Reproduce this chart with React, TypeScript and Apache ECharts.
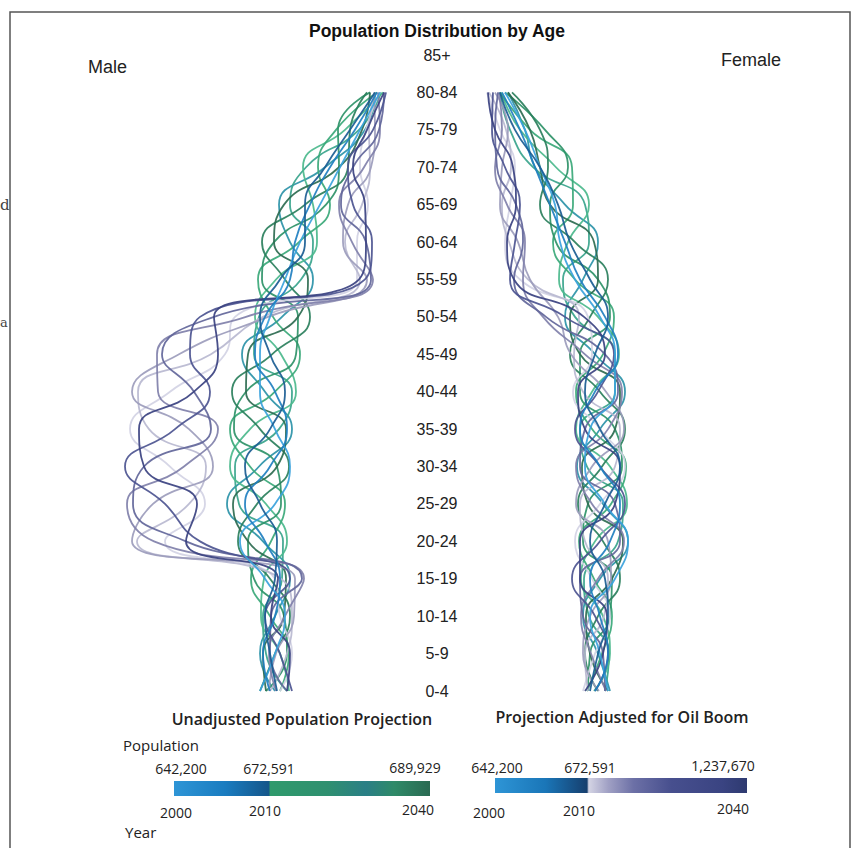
import React, { useEffect, useRef } from 'react';
import * as echarts from 'echarts';

const ageGroups = ['0-4', '5-9', '10-14', '15-19', '20-24', '25-29', '30-34', '35-39', '40-44', '45-49', '50-54', '55-59', '60-64', '65-69', '70-74', '75-79', '80-84', '85+'];

const baseYears = ['2000', '2005', '2010'];
const projYears = ['2015', '2019', '2023', '2027', '2031', '2035', '2040'];

// Male, population (thousands), ages 0-4 .. 80-84
const maleBase = [
  [13.5, 12.0, 11.0, 13.0, 15.5, 12.0, 10.5, 12.0, 13.5, 13.5, 12.5, 11.0, 9.5, 7.5, 5.5, 3.5, 1.5],
  [12.5, 13.2, 12.0, 11.5, 13.0, 15.0, 12.5, 10.8, 12.0, 14.0, 13.0, 10.5, 10.0, 8.5, 6.5, 4.0, 1.8],
  [11.8, 12.5, 13.0, 12.0, 11.8, 13.5, 15.0, 12.5, 11.0, 12.5, 13.5, 11.5, 9.0, 9.0, 7.0, 4.5, 2.0],
];
const maleUnadjusted = [
  [12.0, 13.5, 12.0, 10.5, 13.2, 16.8, 13.6, 10.3, 13.0, 15.3, 11.3, 8.2, 10.5, 11.6, 7.0, 3.0, 2.0],
  [10.8, 12.9, 13.2, 11.3, 11.2, 15.6, 16.0, 11.6, 10.3, 14.1, 13.6, 9.4, 8.2, 10.5, 8.9, 3.6, 1.4],
  [10.6, 11.5, 13.4, 13.1, 10.8, 12.9, 16.5, 14.5, 9.9, 11.4, 14.0, 11.9, 7.8, 8.2, 9.2, 5.0, 1.2],
  [11.5, 10.6, 12.5, 14.4, 12.4, 11.0, 14.5, 16.5, 12.0, 9.5, 12.2, 13.7, 9.6, 6.5, 7.7, 5.9, 1.8],
  [12.9, 10.8, 11.1, 14.1, 14.7, 11.4, 11.8, 16.1, 14.9, 9.9, 9.7, 13.3, 12.1, 6.9, 5.6, 5.7, 2.5],
  [13.5, 12.0, 10.5, 12.5, 15.7, 13.8, 10.6, 13.5, 16.3, 12.3, 8.5, 11.0, 13.3, 9.0, 4.7, 4.5, 2.8],
  [12.9, 13.2, 11.1, 10.9, 14.7, 16.2, 11.8, 10.9, 14.9, 14.7, 9.7, 8.7, 12.1, 11.1, 5.6, 3.3, 2.5],
];
const maleAdjusted = [
  [11.5, 10.3, 11.5, 12.0, 23.0, 19.0, 22.5, 26.5, 22.5, 17.0, 16.0, 3.8, 3.8, 2.7, 3.5, 2.9, 1.5],
  [12.5, 10.8, 10.3, 11.4, 25.8, 20.6, 18.9, 24.6, 25.7, 18.4, 13.2, 3.5, 5.0, 3.3, 2.5, 2.6, 2.0],
  [12.6, 11.9, 10.1, 10.0, 26.3, 24.2, 18.2, 20.6, 26.3, 21.6, 12.7, 2.8, 5.2, 4.7, 2.4, 2.0, 2.1],
  [11.9, 12.6, 11.0, 9.1, 24.1, 26.8, 21.1, 17.7, 23.7, 23.8, 14.9, 2.2, 4.3, 5.6, 3.1, 1.5, 1.7],
  [10.8, 12.5, 12.4, 9.3, 20.9, 26.2, 25.1, 18.4, 20.1, 23.3, 18.1, 2.4, 2.9, 5.4, 4.2, 1.6, 1.1],
  [10.3, 11.5, 13.0, 10.5, 19.5, 23.0, 27.0, 22.0, 18.5, 20.5, 19.5, 3.0, 2.3, 4.2, 4.7, 2.2, 0.9],
  [10.8, 10.5, 12.4, 11.7, 20.9, 19.8, 25.1, 25.6, 20.1, 17.7, 18.1, 3.6, 2.9, 3.0, 4.2, 2.8, 1.1],
];

// Female
const femaleBase = [
  [12.8, 12.0, 11.0, 13.5, 14.8, 12.5, 10.5, 11.0, 13.5, 13.5, 12.0, 9.5, 8.0, 7.5, 6.0, 4.5, 2.5],
  [11.5, 12.8, 12.0, 11.0, 13.0, 14.0, 12.0, 10.0, 11.5, 13.8, 12.5, 10.0, 8.5, 7.0, 5.5, 4.0, 2.2],
  [11.0, 11.8, 12.8, 12.5, 11.0, 12.5, 14.0, 12.0, 10.5, 11.5, 12.8, 11.0, 9.0, 7.8, 6.0, 3.5, 2.0],
];
const femaleUnadjusted = [
  [13.0, 11.8, 10.3, 12.0, 14.8, 12.3, 9.7, 12.0, 14.5, 11.5, 8.5, 10.3, 11.8, 8.5, 5.5, 4.5, 2.8],
  [12.5, 12.9, 10.9, 10.4, 13.8, 14.3, 10.7, 10.0, 13.5, 13.5, 9.5, 8.3, 10.9, 10.5, 5.3, 3.0, 2.0],
  [11.4, 13.0, 12.3, 10.1, 11.5, 14.7, 13.0, 9.6, 11.2, 13.9, 11.8, 7.9, 8.8, 10.9, 7.6, 4.0, 2.1],
  [10.7, 12.2, 13.2, 11.4, 9.9, 13.1, 14.6, 11.2, 9.6, 12.3, 13.4, 9.5, 7.3, 9.3, 9.2, 5.0, 2.0],
  [10.8, 11.0, 13.0, 13.2, 10.3, 10.8, 14.2, 13.5, 10.0, 10.0, 13.0, 11.8, 7.6, 7.0, 8.8, 6.5, 2.5],
  [11.8, 10.5, 11.8, 14.0, 12.3, 9.8, 12.2, 14.5, 12.0, 9.0, 11.0, 12.8, 9.5, 6.0, 6.8, 6.0, 3.2],
  [12.8, 11.0, 10.6, 13.2, 14.3, 10.8, 10.2, 13.5, 14.0, 10.0, 9.0, 11.8, 11.4, 7.0, 6.0, 5.0, 2.8],
];
const femaleAdjusted = [
  [10.3, 11.5, 13.0, 11.2, 9.5, 12.0, 14.5, 12.0, 9.3, 11.2, 10.8, 4.0, 2.5, 3.0, 3.5, 2.0, 0.7],
  [10.8, 10.5, 12.4, 12.8, 10.5, 10.0, 13.5, 14.0, 10.3, 9.4, 9.9, 4.8, 2.9, 2.2, 3.1, 2.6, 0.9],
  [11.9, 10.3, 11.0, 13.1, 12.8, 9.6, 11.2, 14.4, 12.6, 9.1, 7.8, 5.0, 3.8, 2.0, 2.2, 2.8, 1.5],
  [12.6, 11.1, 10.1, 11.8, 14.4, 11.2, 9.6, 12.8, 14.2, 10.5, 6.3, 4.3, 4.5, 2.7, 1.5, 2.2, 1.9],
  [12.5, 12.3, 10.3, 10.0, 14.0, 13.5, 10.0, 10.5, 13.8, 12.5, 6.6, 3.4, 4.3, 3.6, 1.7, 1.5, 1.8],
  [11.5, 12.8, 11.5, 9.2, 12.0, 14.5, 12.0, 9.5, 11.8, 13.4, 8.5, 3.0, 3.5, 4.0, 2.5, 1.2, 1.3],
  [10.5, 12.3, 12.7, 10.0, 10.0, 13.5, 14.0, 10.5, 9.8, 12.5, 10.4, 3.4, 2.7, 3.6, 3.3, 1.5, 0.8],
];

const baseColors = ['#3aa2dc', '#1f7fc0', '#1a5c92'];
const unadjColors = ['#2b93a8', '#38a48c', '#4bb88c', '#3aa878', '#2e9268', '#2a7f5c', '#2c6b50'];
const adjColors = ['#d2d2e4', '#b8b8d0', '#9c9cbc', '#8080aa', '#62669a', '#4c5490', '#3a4180'];

const legendLeftValues = ['642,200', '672,591', '689,929'];
const legendRightValues = ['642,200', '672,591', '1,237,670'];
const legendYears = ['2000', '2010', '2040'];

function makeSeries(rows: number[][], years: string[], colors: string[], side: number, tag: string) {
  return rows.map((row, i) => ({
    type: 'line',
    name: `${side === 0 ? 'Male' : 'Female'} ${tag} ${years[i]}`,
    xAxisIndex: side,
    yAxisIndex: side,
    data: row.map((v, j) => [v, ageGroups[j]]),
    smooth: 0.5,
    symbol: 'none',
    silent: true,
    lineStyle: { width: 1.8, color: colors[i], opacity: 0.92 },
  }));
}

const legendFont = "'Open Sans', 'Noto Sans', sans-serif";
const sansFont = "'Liberation Sans', Arial, sans-serif";

export default function App() {
  const ref = useRef<HTMLDivElement>(null);
  useEffect(() => {
    const chart = echarts.init(ref.current as HTMLDivElement, null, { renderer: 'svg' });
    const txt = (text: string, x: number, y: number, opts: any = {}) => ({
      type: 'text',
      x,
      y,
      silent: true,
      style: {
        text,
        fill: opts.fill || '#222',
        font: opts.font || `14px ${legendFont}`,
        textAlign: opts.align || 'center',
        textVerticalAlign: 'middle',
      },
    });
    const leftGrad = new echarts.graphic.LinearGradient(0, 0, 1, 0, [
      { offset: 0, color: '#2e95d6' },
      { offset: 0.2, color: '#1a7cc0' },
      { offset: 0.37, color: '#15568a' },
      { offset: 0.376, color: '#2f9a6c' },
      { offset: 0.6, color: '#2f9070' },
      { offset: 0.75, color: '#2a7f86' },
      { offset: 0.86, color: '#2f8a68' },
      { offset: 1, color: '#2a6a52' },
    ]);
    const rightGrad = new echarts.graphic.LinearGradient(0, 0, 1, 0, [
      { offset: 0, color: '#2e95d6' },
      { offset: 0.2, color: '#1a76b8' },
      { offset: 0.365, color: '#163f6e' },
      { offset: 0.372, color: '#d4d4e4' },
      { offset: 0.45, color: '#a0a0c4' },
      { offset: 0.55, color: '#6c70a6' },
      { offset: 0.7, color: '#474f8e' },
      { offset: 0.9, color: '#3a4482' },
      { offset: 1, color: '#2e3a70' },
    ]);
    const option: any = {
      animation: false,
      backgroundColor: '#ffffff',
      grid: [
        { left: 95, width: 300, top: 55, height: 636 },
        { left: 480, width: 300, top: 55, height: 636 },
      ],
      xAxis: [
        { type: 'value', gridIndex: 0, inverse: true, min: 0, max: 30, show: false },
        { type: 'value', gridIndex: 1, min: 0, max: 30, show: false },
      ],
      yAxis: [
        {
          type: 'category', gridIndex: 0, data: ageGroups, boundaryGap: false,
          axisLine: { show: false }, axisTick: { show: false }, axisLabel: { show: false }, splitLine: { show: false },
        },
        {
          type: 'category', gridIndex: 1, data: ageGroups, boundaryGap: false,
          axisLine: { show: false }, axisTick: { show: false }, splitLine: { show: false },
          axisLabel: {
            show: true, interval: 0, margin: 43, align: 'center',
            fontSize: 16, fontFamily: sansFont, color: '#222',
          },
        },
      ],
      series: [
        ...makeSeries(maleUnadjusted, projYears, unadjColors, 0, 'Unadjusted'),
        ...makeSeries(maleAdjusted, projYears, adjColors, 0, 'Adjusted'),
        ...makeSeries(maleBase, baseYears, baseColors, 0, 'Base'),
        ...makeSeries(femaleUnadjusted, projYears, unadjColors, 1, 'Unadjusted'),
        ...makeSeries(femaleAdjusted, projYears, adjColors, 1, 'Adjusted'),
        ...makeSeries(femaleBase, baseYears, baseColors, 1, 'Base'),
      ],
      graphic: [
        {
          type: 'rect', silent: true,
          shape: { x: 10, y: 12, width: 840, height: 850 },
          style: { fill: 'none', stroke: '#555', lineWidth: 1.5 },
        },
        txt('d', 0, 205, { font: '15px "DejaVu Serif", serif', align: 'left', fill: '#444' }),
        txt('a', 0, 322, { font: '13px "DejaVu Serif", serif', align: 'left', fill: '#444' }),
        txt('Population Distribution by Age', 437, 31, { font: `bold 17.5px ${sansFont}`, fill: '#111' }),
        txt('Male', 88, 67, { font: `18px ${sansFont}`, align: 'left' }),
        txt('Female', 721, 60, { font: `18px ${sansFont}`, align: 'left' }),
        txt('Unadjusted Population Projection', 302, 719, { font: `600 16px ${legendFont}` }),
        txt('Population', 123, 745, { font: `15px ${legendFont}`, align: 'left' }),
        txt(legendLeftValues[0], 181, 768),
        txt(legendLeftValues[1], 269, 768),
        txt(legendLeftValues[2], 415, 767),
        { type: 'rect', silent: true, shape: { x: 174, y: 781, width: 256, height: 15 }, style: { fill: leftGrad } },
        txt(legendYears[0], 176, 812),
        txt(legendYears[1], 265, 810),
        txt(legendYears[2], 418, 809),
        txt('Year', 125, 832, { font: `15px ${legendFont}`, align: 'left' }),
        txt('Projection Adjusted for Oil Boom', 622, 717, { font: `600 16px ${legendFont}` }),
        txt(legendRightValues[0], 497, 767),
        txt(legendRightValues[1], 590, 767),
        txt(legendRightValues[2], 723, 765),
        { type: 'rect', silent: true, shape: { x: 495, y: 778, width: 252, height: 15 }, style: { fill: rightGrad } },
        txt(legendYears[0], 489, 812),
        txt(legendYears[1], 579, 810),
        txt(legendYears[2], 733, 808),
      ],
    };
    chart.setOption(option);
    return () => chart.dispose();
  }, []);
  return (
    <div
      ref={ref}
      style={{ position: 'fixed', left: 0, top: 0, width: 858, height: 848, background: '#fff' }}
    />
  );
}
